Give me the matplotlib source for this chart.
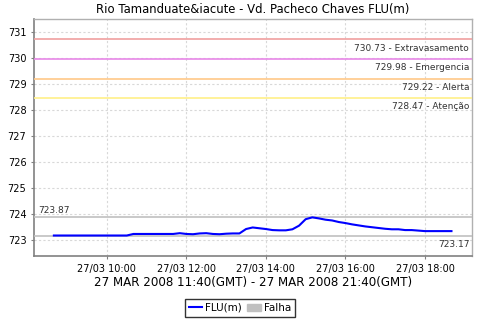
import datetime as dt
import matplotlib
matplotlib.use("Agg")
import matplotlib.pyplot as plt
import matplotlib.dates as mdates
from matplotlib.lines import Line2D
from matplotlib.patches import Patch

# leituras a cada 10 minutos, 08:40 ate 18:40 (hora local)
inicio = dt.datetime(2008, 3, 27, 8, 40)
nivel = [723.17, 723.17, 723.17, 723.17, 723.17, 723.17, 723.17, 723.17, 723.17, 723.17,
         723.17, 723.17, 723.23, 723.23, 723.23, 723.23, 723.23, 723.23, 723.23, 723.26,
         723.23, 723.22, 723.25, 723.26, 723.23, 723.22, 723.24, 723.25, 723.25, 723.42,
         723.48, 723.45, 723.42, 723.38, 723.37, 723.37, 723.41, 723.55, 723.80, 723.87,
         723.83, 723.78, 723.75, 723.69, 723.65, 723.60, 723.56, 723.52, 723.49, 723.46,
         723.43, 723.41, 723.41, 723.38, 723.38, 723.36, 723.34, 723.34, 723.34, 723.34,
         723.34]
horas = [inicio + dt.timedelta(minutes=10 * i) for i in range(len(nivel))]

# cotas de referencia
cotas = [730.73, 729.98, 729.22, 728.47]
nomes = ["Extravasamento", "Emergencia", "Alerta", "Atenção"]
cores = ["#f0a0a0", "#e888e8", "#ffc888", "#fff088"]

nivel_max = 723.87
nivel_min = 723.17

fig = plt.figure(figsize=(4.8, 3.2), dpi=100)
ax = fig.add_axes([34 / 480, 64 / 320, 438 / 480, 237 / 320])

ax.plot(horas, nivel, color="#0000ff", lw=1.5, zorder=5)

for c, n, cor in zip(cotas, nomes, cores):
    ax.axhline(c, color=cor, lw=1.2, zorder=3)
    ax.annotate("%.2f - %s" % (c, n), xy=(1, c), xycoords=("axes fraction", "data"),
                xytext=(-2, -3), textcoords="offset points", ha="right", va="top",
                fontsize=6.5, color="#333333")

ax.axhline(nivel_max, color="#c0c0c0", lw=1.2, zorder=3)
ax.annotate("%.2f" % nivel_max, xy=(0, nivel_max), xycoords=("axes fraction", "data"),
            xytext=(3, 2), textcoords="offset points", ha="left", va="bottom",
            fontsize=6.5, color="#333333")
ax.axhline(nivel_min, color="#c0c0c0", lw=1.2, zorder=3)
ax.annotate("%.2f" % nivel_min, xy=(1, nivel_min), xycoords=("axes fraction", "data"),
            xytext=(-2, -3), textcoords="offset points", ha="right", va="top",
            fontsize=6.5, color="#333333")

ax.set_ylim(722.38, 731.52)
ax.set_yticks(range(723, 732))
ax.set_xlim(dt.datetime(2008, 3, 27, 8, 10), dt.datetime(2008, 3, 27, 19, 11))
ax.xaxis.set_major_locator(mdates.HourLocator(byhour=[10, 12, 14, 16, 18]))
ax.xaxis.set_major_formatter(mdates.DateFormatter("%d/%m %H:%M"))

ax.grid(True, color="#d8d8d8", ls=(0, (2, 2)), lw=0.8)
ax.tick_params(labelsize=7, length=2)
ax.tick_params(axis="both", colors="#808080", labelcolor="black")
for s in ["left", "bottom"]:
    ax.spines[s].set_color("#808080")
    ax.spines[s].set_linewidth(1.2)
for s in ["top", "right"]:
    ax.spines[s].set_color("#b0b0b0")
    ax.spines[s].set_linewidth(1)

ax.set_title("Rio Tamanduate&iacute - Vd. Pacheco Chaves FLU(m)", fontsize=8.4, pad=4)
ax.set_xlabel("27 MAR 2008 11:40(GMT) - 27 MAR 2008 21:40(GMT)", fontsize=8.6, labelpad=2)

handles = [Line2D([], [], color="#0000ff", lw=1.5),
           Patch(facecolor="#c0c0c0", edgecolor="#c0c0c0")]
leg = fig.legend(handles, ["FLU(m)", "Falha"], loc="center", bbox_to_anchor=(240 / 480, 12 / 320),
                 ncol=2, fontsize=7.5, frameon=True, fancybox=False, handlelength=1.3,
                 handleheight=0.7, handletextpad=0.3, columnspacing=0.5, borderpad=0.4,
                 borderaxespad=0)
leg.get_frame().set_edgecolor("black")
leg.get_frame().set_linewidth(1)

fig.savefig("out.png", dpi=100)
